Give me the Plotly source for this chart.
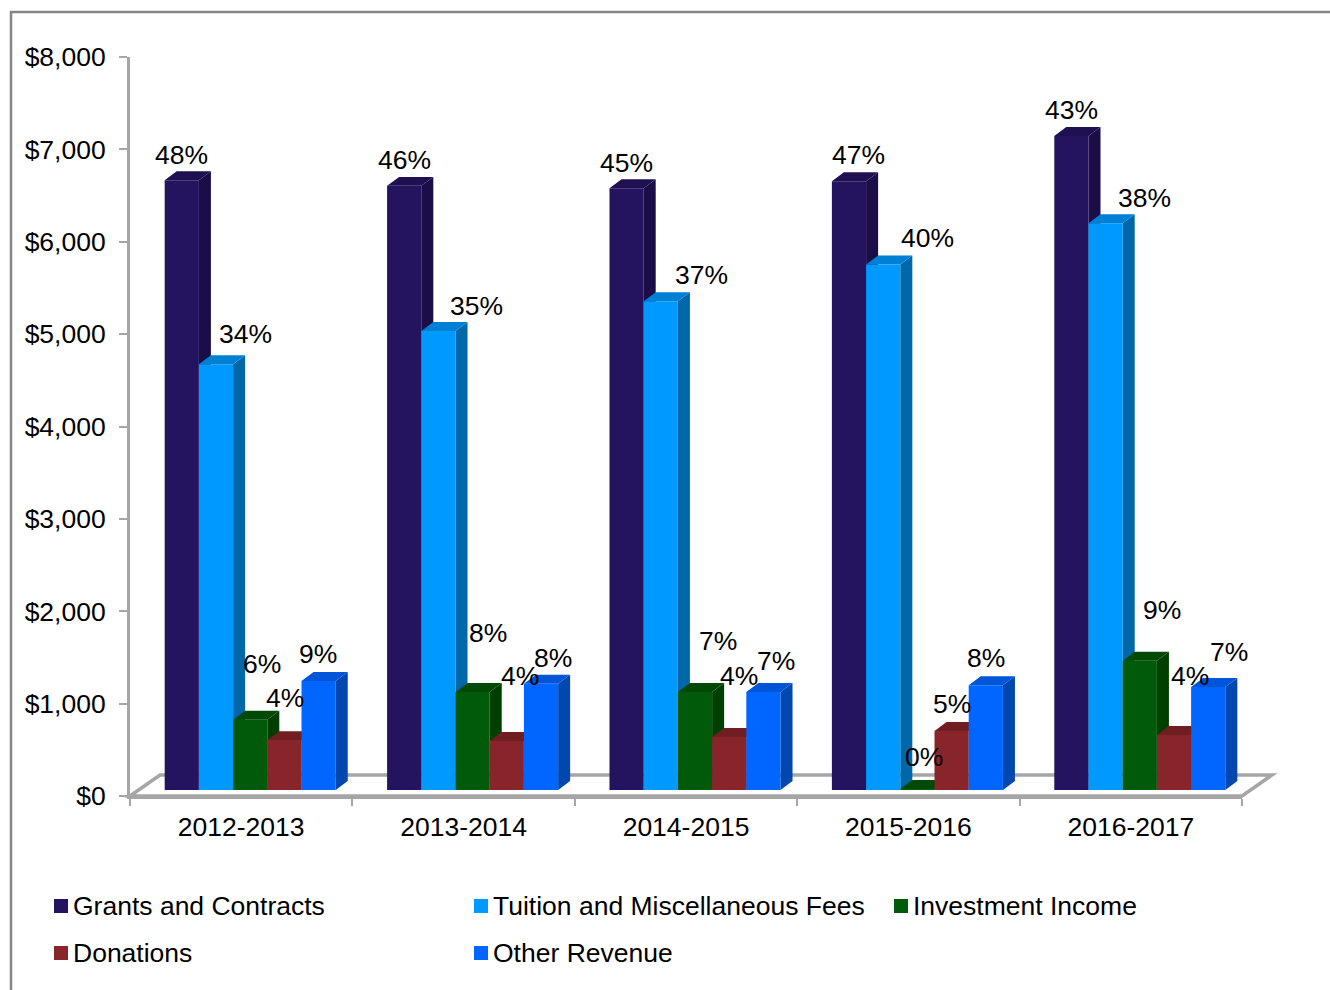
import plotly.graph_objects as go

# ---- data ----
categories = ["2012-2013", "2013-2014", "2014-2015", "2015-2016", "2016-2017"]
series_names = ["Grants and Contracts", "Tuition and Miscellaneous Fees",
                "Investment Income", "Donations", "Other Revenue"]
grants = [6600, 6540, 6515, 6590, 7080]
tuition = [4610, 4970, 5290, 5690, 6135]
investment = [760, 1060, 1060, 10, 1400]
donations = [540, 530, 575, 640, 595]
other = [1180, 1150, 1060, 1135, 1115]
grants_pct = ["48%", "46%", "45%", "47%", "43%"]
tuition_pct = ["34%", "35%", "37%", "40%", "38%"]
investment_pct = ["6%", "8%", "7%", "0%", "9%"]
donations_pct = ["4%", "4%", "4%", "5%", "4%"]
other_pct = ["9%", "8%", "7%", "8%", "7%"]
y_ticks = [0, 1000, 2000, 3000, 4000, 5000, 6000, 7000, 8000]
y_tick_labels = ["$0", "$1,000", "$2,000", "$3,000", "$4,000", "$5,000", "$6,000", "$7,000", "$8,000"]

# ---- styling ----
values = [grants, tuition, investment, donations, other]
percents = [grants_pct, tuition_pct, investment_pct, donations_pct, other_pct]
front = ["#24135F", "#0099FF", "#005A0A", "#88252A", "#0066FF"]
side = ["#1B0E48", "#0068A8", "#003F00", "#5E181C", "#0047B0"]
top = ["#1F1052", "#0080D4", "#004A06", "#701E22", "#0055D8"]
FONT = "Liberation Sans, Arial, sans-serif"
FS = 26.5
GREY = "#A6A6A6"
W, H = 1330, 990
AX_L, AX_R, AX_T, AX_B = 130, 1242, 57, 796
BAR_W = 0.1538       # category units
BAR_START = -0.344   # left edge of the first bar relative to category centre
BASE = 65            # bars stand on the raised 3D floor
DX = 0.054           # depth in category units
DY = 97              # depth in value units
# label offsets from the bar's top-centre, px (one row per series, one col per category)
label_dx = [[0, 0, 0, 9, 0], [29, 38, 41, 44, 39], [12, 15, 23, 7, 22],
            [1, 13, 10, 0, 16], [-1, 12, 13, 0, 21]]
label_dy = [[25.5, 26, 25, 26, 26], [30, 25, 26, 26, 25], [56, 59, 51, 32, 51],
            [42, 65, 61, 27, 59], [27, 26, 31, 27, 35]]

px = lambda x: x / W
py = lambda y: 1 - y / H

fig = go.Figure()
shapes = [
    dict(type="rect", xref="paper", yref="paper", x0=px(11), x1=px(1345), y0=py(12), y1=py(1005),
         line=dict(color="#868686", width=2.5), fillcolor="white", layer="below"),
    dict(type="path", xref="paper", yref="paper", layer="below", fillcolor="white",
         line=dict(color=GREY, width=3.5),
         path=f"M{px(130)},{py(796)} L{px(160)},{py(775)} L{px(1272)},{py(775)} L{px(1242)},{py(796)} Z"),
]
annotations = []

for s, name in enumerate(series_names):
    off = BAR_START + s * BAR_W
    fig.add_trace(go.Bar(x=categories, y=values[s], base=[BASE] * len(categories), name=name,
                         width=BAR_W, offset=off, marker=dict(color=front[s], line=dict(width=0)),
                         showlegend=False))

for c in range(len(categories)):
    for s in range(len(series_names)):
        xl = c + BAR_START + s * BAR_W
        xr = xl + BAR_W
        yt = BASE + values[s][c]
        shapes.append(dict(type="path", xref="x", yref="y", layer="below", fillcolor=side[s],
                           line=dict(width=0),
                           path=f"M{xr},{BASE} L{xr + DX},{BASE + DY} L{xr + DX},{yt + DY} L{xr},{yt} Z"))
        shapes.append(dict(type="path", xref="x", yref="y", layer="below", fillcolor=top[s],
                           line=dict(width=0),
                           path=f"M{xl},{yt} L{xl + DX},{yt + DY} L{xr + DX},{yt + DY} L{xr},{yt} Z"))
        annotations.append(dict(x=(xl + xr) / 2, y=yt, xref="x", yref="y", text=percents[s][c],
                                showarrow=False, xanchor="center", yanchor="middle",
                                xshift=label_dx[s][c], yshift=label_dy[s][c],
                                font=dict(family=FONT, size=FS, color="black")))

# legend, laid out in the reference's grid
legend_x = [54, 474, 894, 54, 474]
legend_y = [906, 906, 906, 953, 953]
for s, name in enumerate(series_names):
    shapes.append(dict(type="rect", xref="paper", yref="paper", fillcolor=front[s], line=dict(width=0),
                       x0=px(legend_x[s]), x1=px(legend_x[s] + 14),
                       y0=py(legend_y[s] + 7), y1=py(legend_y[s] - 7)))
    annotations.append(dict(x=px(legend_x[s] + 17), y=py(legend_y[s]), xref="paper", yref="paper", text=name,
                            showarrow=False, xanchor="left", yanchor="middle",
                            font=dict(family=FONT, size=FS, color="black")))

fig.update_layout(
    width=W, height=H, margin=dict(l=0, r=0, t=0, b=0, autoexpand=False), autosize=False,
    paper_bgcolor="white", plot_bgcolor="rgba(0,0,0,0)", barmode="overlay", showlegend=False,
    font=dict(family=FONT, size=FS, color="black"),
    shapes=shapes, annotations=annotations,
    xaxis=dict(type="category", domain=[px(AX_L), px(AX_R)], range=[-0.5, 4.5], categoryorder="array",
               categoryarray=categories, tickson="boundaries", ticks="outside", ticklen=7, tickwidth=2,
               tickcolor=GREY, showline=True, linecolor=GREY, linewidth=3, showgrid=False, zeroline=False,
               ticklabelstandoff=5, tickfont=dict(family=FONT, size=FS, color="black")),
    yaxis=dict(domain=[py(AX_B), py(AX_T)], range=[0, 8000], tickmode="array", tickvals=y_ticks,
               ticktext=y_tick_labels,
               ticks="outside", ticklen=8, tickwidth=2, tickcolor=GREY, showline=True, linecolor=GREY,
               linewidth=3, showgrid=False, zeroline=False, ticklabelstandoff=8,
               tickfont=dict(family=FONT, size=FS, color="black")),
)

fig.write_html("out.html", config=dict(displayModeBar=False),
               post_script="document.body.style.margin='0';document.body.style.overflow='hidden';")
